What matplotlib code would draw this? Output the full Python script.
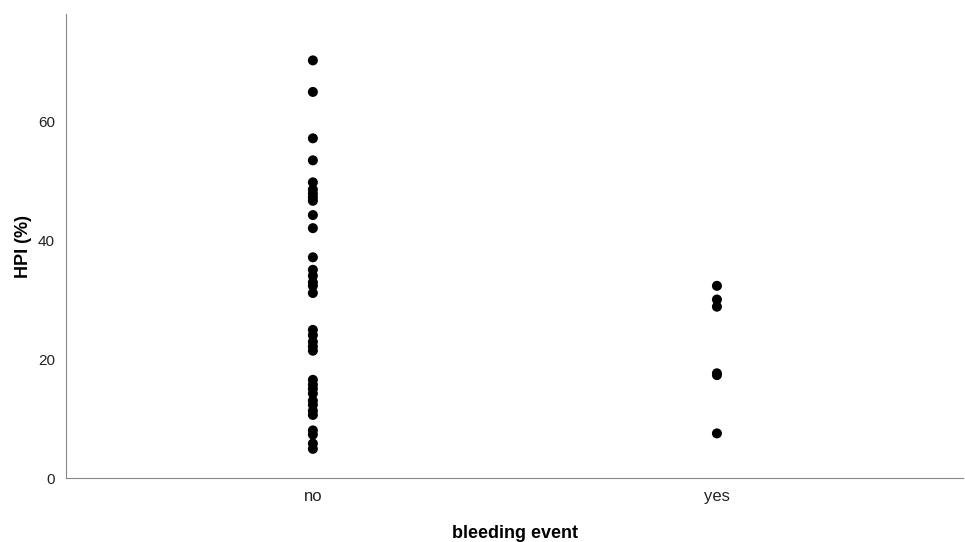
import matplotlib.pyplot as plt

plt.rcParams["font.family"] = ["Liberation Sans", "DejaVu Sans"]

categories = ["no", "yes"]
hpi_no = [70.2, 64.9, 57.1, 53.4, 49.7, 48.5, 47.8, 47.2, 46.6, 44.2, 42.0, 37.1,
          35.0, 34.0, 32.9, 32.3, 31.1, 24.9, 24.0, 22.9, 22.1, 21.4,
          16.5, 15.7, 15.0, 14.2, 13.0, 12.3, 11.3, 10.6, 8.0, 7.3, 5.8, 4.9]
hpi_yes = [32.3, 30.0, 28.8, 17.6, 17.3, 7.5]
yticks = [0, 20, 40, 60]

fig = plt.figure(figsize=(9.65, 5.42), dpi=100)
ax = fig.add_axes([66 / 965, 1 - 478 / 542, 897 / 965, 464 / 542])

for i, vals in enumerate([hpi_no, hpi_yes]):
    ax.scatter([i] * len(vals), vals, s=52, color="black", edgecolors="none", zorder=3)

ax.set_xlim(-0.611, 1.609)
ax.set_ylim(0, 78)
ax.set_xticks(range(len(categories)))
ax.set_xticklabels(categories, fontsize=12, color="#222222")
ax.set_yticks(yticks)
ax.set_yticklabels([str(t) for t in yticks], fontsize=11, color="#222222")
ax.tick_params(length=0, pad=8)

ax.spines["top"].set_visible(False)
ax.spines["right"].set_visible(False)
ax.spines["left"].set_color("#888888")
ax.spines["bottom"].set_color("#888888")

ax.set_ylabel("HPI (%)", fontsize=13, weight="bold", labelpad=4)
ax.set_xlabel("bleeding event", fontsize=13, weight="bold", labelpad=15)

fig.savefig("out.png", dpi=100, facecolor="white")
